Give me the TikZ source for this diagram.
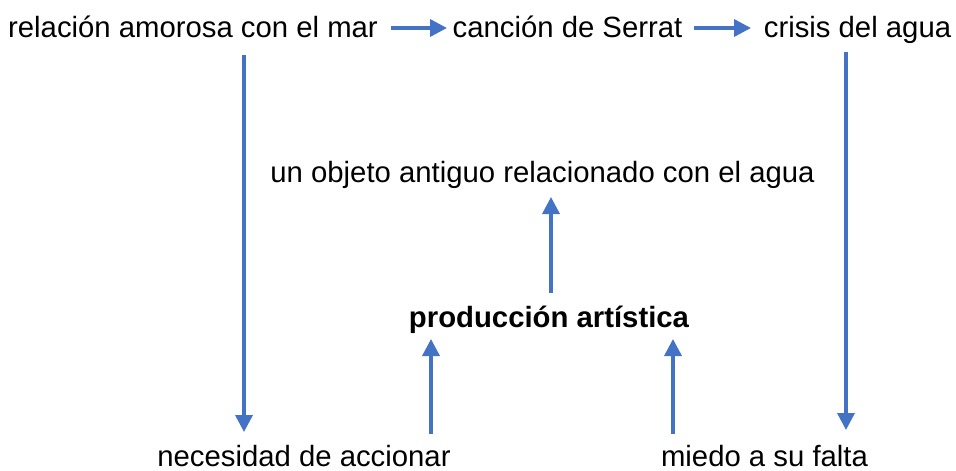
\documentclass[tikz,border=0pt]{standalone}
\usepackage{fontspec}
\setmainfont{Liberation Sans}
\usetikzlibrary{arrows.meta,calc}
\definecolor{arrowblue}{HTML}{4472C4}
\tikzset{
  lbl/.style={inner sep=0pt, anchor=base, font=\fontsize{29.3}{34}\selectfont},
  arr/.style={draw=arrowblue, line width=3.5pt, -{Triangle[length=17pt,width=17pt]}},
}
\begin{document}
\begin{tikzpicture}[x=1pt,y=-1pt]
\useasboundingbox (0,0) rectangle (956,471);
\node[lbl] (rel) at (193,37) {relación amorosa con el mar};
\node[lbl] (can) at (567.5,37) {canción de Serrat};
\node[lbl] (cri) at (857.5,37) {crisis del agua};
\node[lbl] (obj) at (542.5,182) {un objeto antiguo relacionado con el agua};
\node[lbl, font=\fontsize{29.3}{34}\selectfont\bfseries] (pro) at (549,327) {producción artística};
\node[lbl] (nec) at (304,466) {necesidad de accionar};
\node[lbl] (mie) at (764.5,466) {miedo a su falta};
% horizontal arrows
\draw[arr] ($(rel.base)+(198,-9)$) -- ($(can.base)+(-120.5,-9)$);
\draw[arr] ($(can.base)+(126.5,-9)$) -- ($(cri.base)+(-106.5,-9)$);
% long vertical arrows
\draw[arr] ($(rel.base)+(51,18)$) -- ($(nec.base)+(-60,-34)$);
\draw[arr] ($(cri.base)+(-11.5,15)$) -- ($(mie.base)+(81.5,-36)$);
% arrows to/from production
\draw[arr] ($(pro.base)+(2,-34)$) -- ($(obj.base)+(8.5,15)$);
\draw[arr] ($(nec.base)+(127,-32)$) -- ($(pro.base)+(-118,12)$);
\draw[arr] ($(mie.base)+(-91.5,-32)$) -- ($(pro.base)+(124,12)$);
\end{tikzpicture}
\end{document}
